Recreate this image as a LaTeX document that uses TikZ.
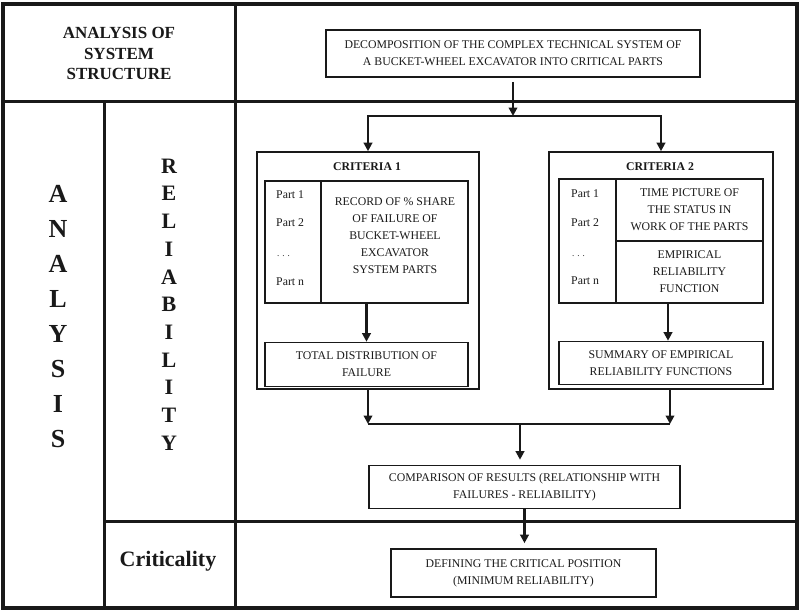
\documentclass[tikz,border=0pt]{standalone}
\usepackage{fontspec}
\setmainfont{Liberation Serif}
\usetikzlibrary{arrows.meta,calc}
\definecolor{ink}{RGB}{25,25,25}
\newcommand{\bxfont}{\fontsize{11.8}{17}\selectfont}
\begin{document}
\begin{tikzpicture}[x=1pt,y=-1pt,
  every node/.style={text=ink},
  frameline/.style={draw=ink, line width=3.4pt},
  gridline/.style={draw=ink, line width=3pt},
  box/.style={draw=ink, line width=1.6pt, inner sep=0pt, align=center, font=\bxfont},
  txt/.style={inner sep=0pt, align=center, font=\bxfont},
  partlbl/.style={inner sep=0pt, anchor=west, font=\bxfont},
  ttl/.style={inner sep=0pt, align=center, font={\bxfont\bfseries}},
  ln/.style={draw=ink, line width=2.2pt},
  arr/.style={draw=ink, line width=2.2pt, -{Triangle[length=8.5pt,width=8.5pt]}}]
\useasboundingbox (0,0) rectangle (800,611);
% table frame
\draw[frameline] (3,4) rectangle (797,608);
\draw[gridline] (3,101) -- (797,101);
\draw[gridline] (235,4) -- (235,608);
\draw[gridline] (104,101) -- (104,608);
\draw[gridline] (104,521) -- (797,521);
% left headers
\node[inner sep=0pt, align=center, font={\fontsize{17}{20.5}\selectfont\bfseries}] (hdr) at (119,53.5) {ANALYSIS OF\\SYSTEM\\STRUCTURE};
\node[inner sep=0pt, align=center, font={\fontsize{26}{35}\selectfont\bfseries}] (analysis) at (58,317) {A\\N\\A\\L\\Y\\S\\I\\S};
\node[inner sep=0pt, align=center, font={\fontsize{22}{27.7}\selectfont\bfseries}] (reliab) at (169,304.5) {R\\E\\L\\I\\A\\B\\I\\L\\I\\T\\Y};
\node[inner sep=0pt, align=center, font={\fontsize{22}{26}\selectfont\bfseries}] (critic) at (168,561) {Criticality};
% top box
\node[box, minimum width=374pt, minimum height=47pt] (decomp) at (513,53.5) {DECOMPOSITION OF THE COMPLEX TECHNICAL SYSTEM OF\\A BUCKET-WHEEL EXCAVATOR INTO CRITICAL PARTS};
% criteria 1
\node[box, minimum width=222pt, minimum height=237pt] (crit1) at (368,270.5) {};
\node[ttl] (crit1t) at (367,167) {CRITERIA 1};
\node[box, minimum width=56pt, minimum height=122pt] (parts1) at (293,242) {};
\node[box, minimum width=147pt, minimum height=122pt] (record1) at (394.5,242) {};
\node[txt] (record1t) at (395,235.5) {RECORD OF \% SHARE\\OF FAILURE OF\\BUCKET-WHEEL\\EXCAVATOR\\SYSTEM PARTS};
\node[partlbl] (p11) at (276,195) {Part 1};
\node[partlbl] (p12) at (276,223) {Part 2};
\node[partlbl, font=\fontsize{9}{10}\selectfont] (p13) at (277,256) {. . .};
\node[partlbl] (p1n) at (276,282) {Part n};
\node[box, minimum width=203pt, minimum height=44pt] (total1) at (366.5,364.5) {TOTAL DISTRIBUTION OF\\FAILURE};
% criteria 2
\node[box, minimum width=224pt, minimum height=237pt] (crit2) at (661,270.5) {};
\node[ttl] (crit2t) at (660,167) {CRITERIA 2};
\node[box, minimum width=57pt, minimum height=124pt] (parts2) at (587.5,241) {};
\node[box, minimum width=147pt, minimum height=62pt] (time2) at (689.5,210) {TIME PICTURE OF\\THE STATUS IN\\WORK OF THE PARTS};
\node[box, minimum width=147pt, minimum height=62pt] (emp2) at (689.5,272) {EMPIRICAL\\RELIABILITY\\FUNCTION};
\node[partlbl] (p21) at (571,194) {Part 1};
\node[partlbl] (p22) at (571,223) {Part 2};
\node[partlbl, font=\fontsize{9}{10}\selectfont] (p23) at (572,256) {. . .};
\node[partlbl] (p2n) at (571,281) {Part n};
\node[box, minimum width=204pt, minimum height=43pt] (summ2) at (661,363) {SUMMARY OF EMPIRICAL\\RELIABILITY FUNCTIONS};
% bottom boxes
\node[box, minimum width=311pt, minimum height=43pt] (comp) at (524.5,487) {COMPARISON OF RESULTS (RELATIONSHIP WITH\\FAILURES - RELIABILITY)};
\node[box, minimum width=265pt, minimum height=48pt] (defn) at (523.5,573) {DEFINING THE CRITICAL POSITION\\(MINIMUM RELIABILITY)};
% connectors
\coordinate (j1) at (513,116);
\draw[arr, shorten <=4pt] (decomp.south) -- (j1);
\draw[arr] (j1) -| (crit1.north);
\draw[arr] (j1) -| (crit2.north);
\draw[arr] (total1.north |- record1.south) -- (total1.north);
\draw[arr] ($(summ2.north |- emp2.south)+(7,0)$) -- ($(summ2.north)+(7,0)$);
\coordinate (j2) at (520,424);
\coordinate (c2o) at ($(crit2.south)+(9,0)$);
\draw[arr] (crit1.south) -- (crit1.south |- j2);
\draw[arr] (c2o) -- (c2o |- j2);
\draw[ln] (crit1.south |- j2) -- (c2o |- j2);
\draw[arr, shorten >=5pt] (j2) -- (j2 |- comp.north);
\draw[arr, shorten >=5pt] (comp.south) -- (comp.south |- defn.north);
\end{tikzpicture}
\end{document}
